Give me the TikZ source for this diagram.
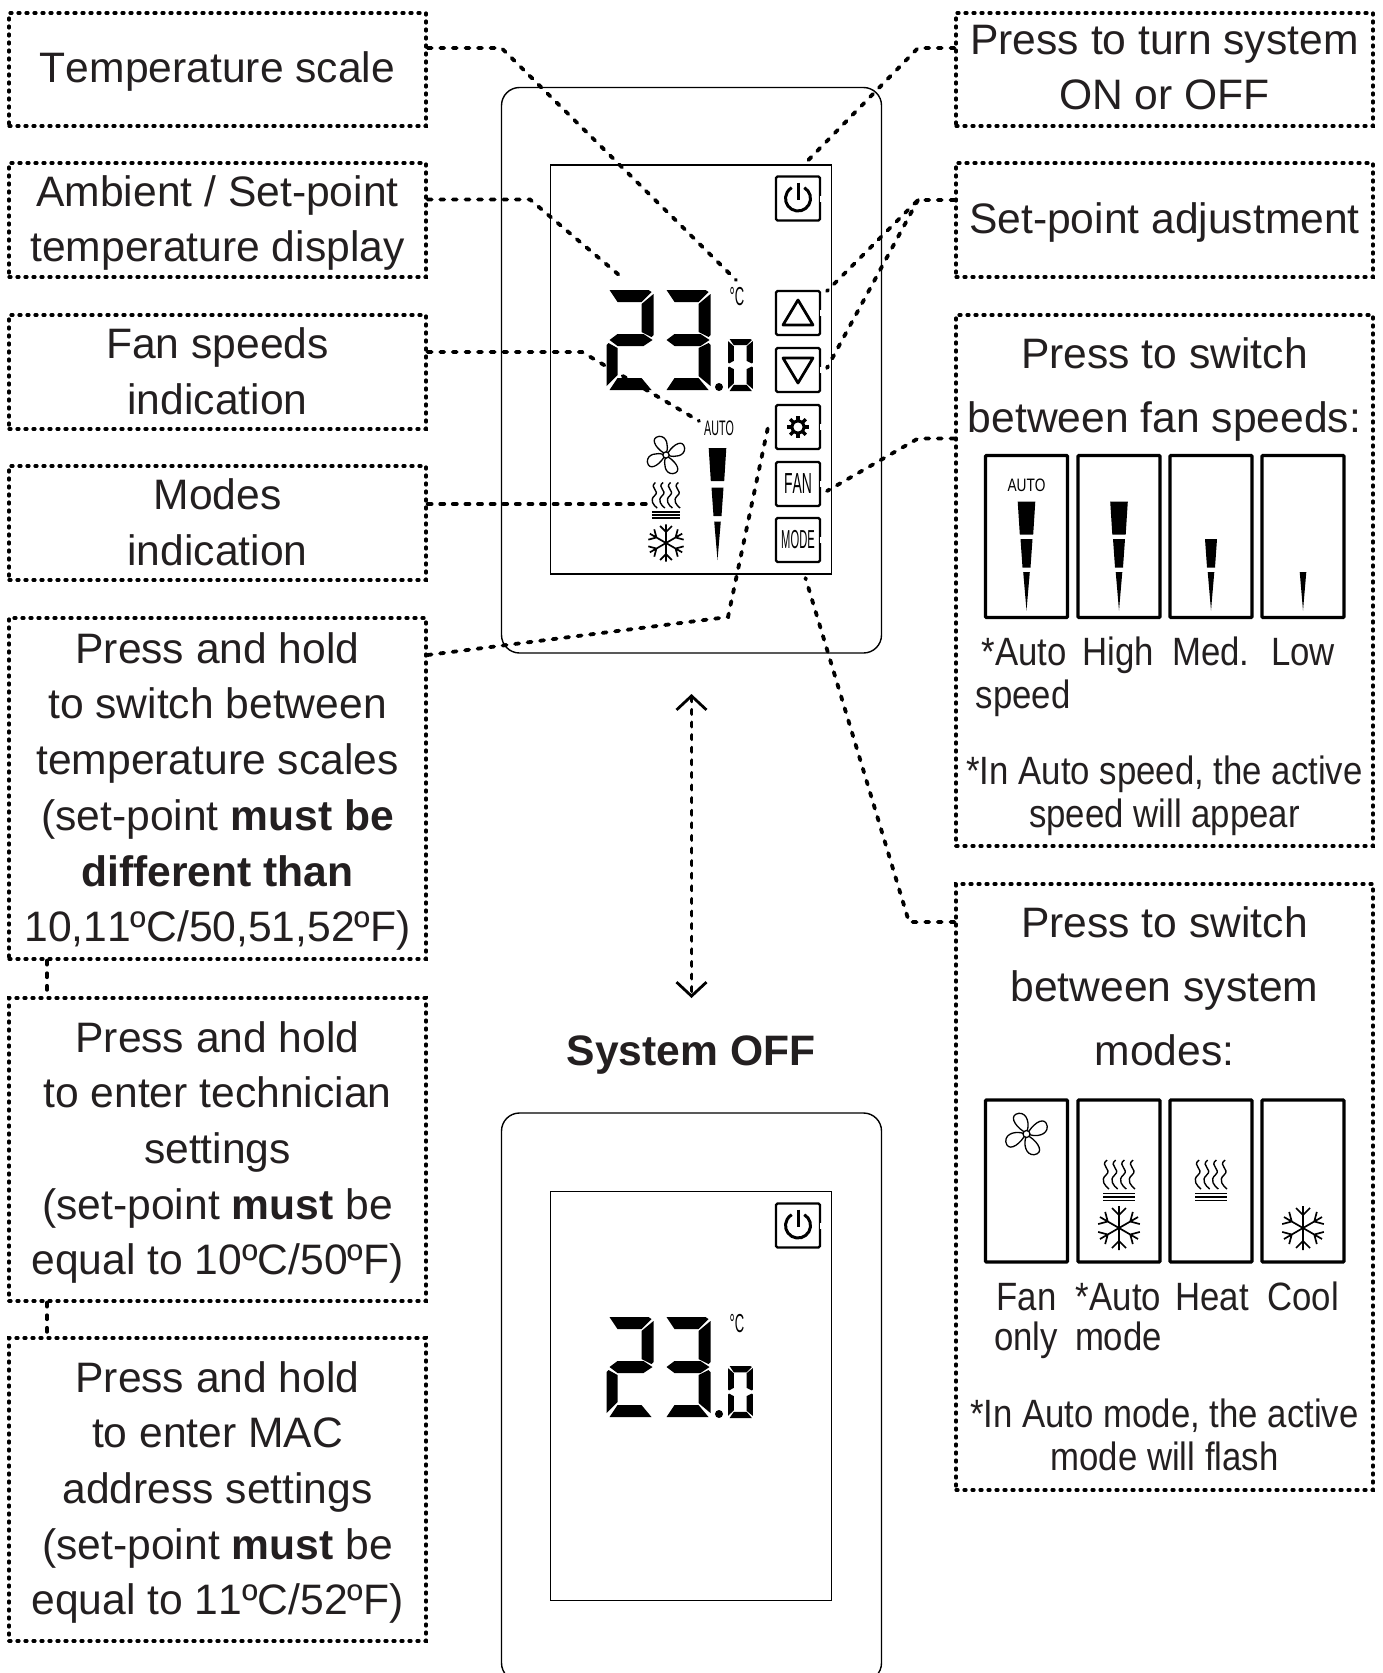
\documentclass[tikz,border=0pt]{standalone}
\usepackage{xcolor}
\usepackage{graphicx}
\usepackage{fontspec}
\usepackage{tikz}
\usetikzlibrary{arrows.meta,calc}
\setmainfont[Kerning=Off]{Liberation Sans}
\newfontfamily\narrowfont[FakeStretch=0.88]{Liberation Sans}
\definecolor{ink}{RGB}{35,31,32}

% one segment set of the display, drawn in a 47 x 100 cell
\newcommand{\sega}{(3,0) -- (42,0) -- (45,2) -- (35,12) -- (11,12) -- cycle}
\newcommand{\segb}{(47,4) -- (47,45) -- (45,47) -- (35,42) -- (35,14) -- cycle}
\newcommand{\segc}{(47,55) -- (47,96) -- (35,86) -- (35,58) -- (45,53) -- cycle}
\newcommand{\segd}{(45,100) -- (3,100) -- (11,88) -- (35,88) -- cycle}
\newcommand{\sege}{(0,55) -- (0,96) -- (11,85) -- (11,58) -- (2,53) -- cycle}
\newcommand{\segf}{(0,4) -- (0,45) -- (2,47) -- (11,42) -- (11,14) -- cycle}
\newcommand{\segg}{(3,50) -- (11,44) -- (37,44) -- (46,50) -- (37,56) -- (11,56) -- cycle}

\tikzset{
  callout/.style={draw=black, line width=3.2pt, dash pattern=on 2pt off 6pt, line cap=round,
    minimum width=417pt, inner sep=0pt},
  boxtext/.style={inner sep=0pt, align=center, text=ink, font=\fontsize{42.6}{55.7}\selectfont},
  lead/.style={draw=black, line width=3.8pt, dash pattern=on 4pt off 8.6pt, line cap=round},
  frame/.style={draw=black, line width=1.4pt},
  btn/.style={draw=black, line width=2.2pt, rounded corners=1.5pt, minimum size=44pt, inner sep=0pt},
  minipanel/.style={draw=black, line width=3.4pt, rounded corners=1pt, minimum width=82pt, minimum height=162pt, inner sep=0pt},
  plainlabel/.style={inner sep=0pt, text=ink, anchor=base, font=\fontsize{42.6}{55.7}\selectfont},
  narrowlabel/.style={inner sep=0pt, text=ink, anchor=base, font=\narrowfont\fontsize{39.5}{43}\selectfont},
  lcdlabel/.style={inner sep=0pt, text=black},
  pics/snowicon/.style={code={
    \foreach \ang in {0,60,...,300}{
      \draw[line width=1.7pt, rotate=\ang] (0,0) -- (0,-22) (-7,-20) -- (0,-13) -- (7,-20);
    }
  }},
  pics/fanicon/.style={code={
    \foreach \ang in {15,105,195,285}{
      \draw[line width=1.3pt, rotate=\ang] (1.5,-3) .. controls (5,-8) and (7,-20) .. (-2,-22)
        .. controls (-12,-23) and (-10,-12) .. (-2,-3);
    }
    \draw[line width=1.3pt, fill=white] (0,0) circle (3.5);
  }},
  pics/heaticon/.style={code={
    \foreach \off in {-13,-4.3,4.3,13}{
      \draw[line width=1.4pt, xshift=\off pt] (1,-21) .. controls (-7,-15) and (7,-12) .. (0,-6)
        .. controls (-6,-1) and (-1,5) .. (3,8);
    }
    \foreach \lev in {12.5,16,19.5}{
      \draw[line width=1.5pt] (-16,\lev) -- (16,\lev);
    }
  }},
  pics/speedtop/.style={code={
    \fill (-8.8,0) -- (8.8,0) -- (6.7,33) -- (-6.7,33) -- cycle;
  }},
  pics/speedmid/.style={code={
    \fill (-6,37.5) -- (6,37.5) -- (4,66) -- (-4,66) -- cycle;
  }},
  pics/speedlow/.style={code={
    \fill (-3.3,70.5) -- (3.3,70.5) -- (0,109) -- cycle;
  }},
  pics/lcdnumber/.style={code={
    \begin{scope}[shift={(0,0)}]
      \foreach \seg in {\sega,\segb,\segg,\sege,\segd}{ \fill \seg; }
    \end{scope}
    \begin{scope}[shift={(57,0)}]
      \foreach \seg in {\sega,\segb,\segg,\segc,\segd}{ \fill \seg; }
    \end{scope}
    \fill (112.5,97) circle (4);
    \begin{scope}[shift={(121.5,49)},xscale=0.53,yscale=0.52]
      \foreach \seg in {\sega,\segb,\segc,\segd,\sege,\segf}{ \fill \seg; }
    \end{scope}
  }},
  pics/powersign/.style={code={
    \draw[line width=3pt] (-60:12.5) arc[start angle=-60, end angle=240, radius=12.5];
    \draw[line width=3pt] (0,-16) -- (0,1);
  }},
}

\begin{document}
\begin{tikzpicture}[x=1pt,y=-1pt]
\useasboundingbox[fill=white] (0,0) rectangle (1383,1673);

% left column
\node[callout, minimum height=113pt] (scalebox) at (217.5,69.5) {};
\node[boxtext] (scaletxt) at ([yshift=-2pt]scalebox.center) {Temperature scale};
\node[callout, minimum height=114pt] (tempbox) at (217.5,220) {};
\node[boxtext] (temptxt) at ([yshift=-3pt]tempbox.center) {Ambient / Set-point\\temperature display};
\node[callout, minimum height=114pt] (fanbox) at (217.5,372) {};
\node[boxtext] (fanboxtxt) at ([yshift=1pt]fanbox.center) {Fan speeds\\indication};
\node[callout, minimum height=114pt] (modebox) at (217.5,523) {};
\node[boxtext] (modeboxtxt) at ([yshift=1pt]modebox.center) {Modes\\indication};
\node[callout, minimum height=341pt] (holdbox) at (217.5,788.5) {};
\node[boxtext] (holdtxt) at ([yshift=-3pt]holdbox.center) {Press and hold\\to switch between\\temperature scales\\(set-point \textbf{must be}\\\textbf{different than}\\10,11ºC/50,51,52ºF)};
\node[callout, minimum height=303pt] (techbox) at (217.5,1149.5) {};
\node[boxtext] (techtxt) at ([yshift=-3pt]techbox.center) {Press and hold\\to enter technician\\settings\\(set-point \textbf{must} be\\equal to 10ºC/50ºF)};
\node[callout, minimum height=303pt] (macbox) at (217.5,1489.5) {};
\node[boxtext] (mactxt) at ([yshift=-3pt]macbox.center) {Press and hold\\to enter MAC\\address settings\\(set-point \textbf{must} be\\equal to 11ºC/52ºF)};

% right column
\node[callout, minimum height=113pt] (powerbox) at (1164.5,69.5) {};
\node[boxtext] (powertxt) at ([yshift=2pt]powerbox.center) {Press to turn system\\ON or OFF};
\node[callout, minimum height=114pt] (setbox) at (1164.5,220) {};
\node[boxtext] (settxt) at ([yshift=-2pt]setbox.center) {Set-point adjustment};
\node[callout, minimum height=531pt] (speedbox) at (1164.5,580.5) {};
\node[callout, minimum height=606pt] (sysbox) at (1164.5,1187) {};

\node[plainlabel] (speedhead) at (1164.5,368.5) {Press to switch};
\node[plainlabel] (speedsub) at (1164.5,432.5) {between fan speeds:};
\node[plainlabel] (syshead) at (1164.5,937.5) {Press to switch};
\node[plainlabel] (syssub) at (1164.5,1001.5) {between system};
\node[plainlabel] (sysend) at (1164.5,1065.5) {modes:};

% speed panels
\node[minipanel] (speedauto) at (1026.5,536.5) {};
\node[minipanel] (speedhigh) at (1119,536.5) {};
\node[minipanel] (speedmed) at (1211,536.5) {};
\node[minipanel] (speedlow) at (1303,536.5) {};
\node[lcdlabel] (autotag) at (1026.5,485.5) {\fontsize{18}{18}\selectfont\scalebox{0.76}[1]{AUTO}};
\path (speedauto.center |- 0,501.5) pic {speedtop} pic {speedmid} pic {speedlow};
\path (speedhigh.center |- 0,501.5) pic {speedtop} pic {speedmid} pic {speedlow};
\path (speedmed.center |- 0,501.5) pic {speedmid} pic {speedlow};
\path (speedlow.center |- 0,501.5) pic {speedlow};

\node[narrowlabel] (autotxt) at (1024,665) {*Auto};
\node[narrowlabel] (hightxt) at (1118.5,665) {High};
\node[narrowlabel] (medtxt) at (1211,665) {Med.};
\node[narrowlabel] (lowtxt) at (1303,665) {Low};
\node[narrowlabel] (speedtxt) at (1023,708) {speed};
\node[narrowlabel] (speednote) at (1164.5,784) {*In Auto speed, the active};
\node[narrowlabel] (speedend) at (1164.5,827) {speed will appear};

% mode panels
\node[minipanel] (modefan) at (1026.5,1181) {};
\node[minipanel] (modeauto) at (1119,1181) {};
\node[minipanel] (modeheat) at (1211,1181) {};
\node[minipanel] (modecool) at (1303,1181) {};
\path (1026.5,1134) pic {fanicon};
\path (1119,1181) pic {heaticon};
\path (1119,1228) pic {snowicon};
\path (1211,1181) pic {heaticon};
\path (1303,1228) pic {snowicon};

\node[narrowlabel] (fantxt) at (1026.5,1310) {Fan};
\node[narrowlabel] (onlytxt) at (1026,1350) {only};
\node[narrowlabel] (mautotxt) at (1118.5,1310) {*Auto};
\node[narrowlabel] (mmodetxt) at (1118.5,1350) {mode};
\node[narrowlabel] (heattxt) at (1212,1310) {Heat};
\node[narrowlabel] (cooltxt) at (1303,1310) {Cool};
\node[narrowlabel] (modenote) at (1164.5,1427) {*In Auto mode, the active};
\node[narrowlabel] (modelast) at (1164.5,1470) {mode will flash};

% thermostat on
\draw[frame, rounded corners=18pt] (501.5,87.5) rectangle (881.5,653);
\node[frame, minimum width=281pt, minimum height=409pt, inner sep=0pt, line width=1.2pt] (screen) at (691,369.5) {};

\coordinate (scaleend) at (736,280);
\coordinate (tempend) at (619,275);
\coordinate (fanend) at (699,421);
\coordinate (modeend) at (650,504);
\coordinate (holdend) at (768,427);
\coordinate (powerend) at (803.5,165);
\coordinate (upend) at (827,291);
\coordinate (downend) at (827,368);
\coordinate (fanbtnend) at (827,491);
\coordinate (modebtnend) at (805.5,578);

\draw[lead] (scalebox.east |- 0,48) -- (501.5,48) -- (scaleend);
\draw[lead] (tempbox.east |- 0,199.5) -- (530,199.5) -- (tempend);
\draw[lead] (fanbox.east |- 0,352) -- (582,352) -- (fanend);
\draw[lead] (modebox.east |- 0,504) -- (modeend);
\draw[lead] (holdbox.east |- 0,655) -- (728,617) -- (holdend);
\draw[lead] (powerbox.west |- 0,48) -- (918,48) -- (powerend);
\draw[lead] (setbox.west |- 0,200) -- (918,200) -- (upend);
\draw[lead] (918,200) -- (downend);
\draw[lead] (speedbox.west |- 0,438.5) -- (918,438.5) -- (fanbtnend);
\draw[lead] (sysbox.west |- 0,922) -- (909,922) -- (modebtnend);
\draw[lead] (holdbox.south -| 47,0) -- (techbox.north -| 47,0);
\draw[lead] (techbox.south -| 47,0) -- (macbox.north -| 47,0);

% display of the on state
\path (606.5,290) pic {lcdnumber};
\node[lcdlabel] (unitone) at (737,297) {\fontsize{26}{26}\selectfont\scalebox{0.5}[1]{°C}};
\node[lcdlabel] (autolcd) at (719,428) {\fontsize{21}{21}\selectfont\scalebox{0.51}[1]{AUTO}};
\path (666,455) pic[scale=0.9] {fanicon};
\path (666,501) pic[scale=0.88] {heaticon};
\path (666,543) pic[scale=0.85] {snowicon};
\path (717.5,448) pic {speedtop} pic[yshift=-2pt] {speedmid} pic[yshift=-3pt] {speedlow};

% buttons
\foreach \name/\ypos/\tag in {onbtn/198.5/,upbtn/313/,downbtn/370/,gearbtn/427/,fanbtn/484/{\fontsize{29}{29}\selectfont\scalebox{0.48}[1]{FAN}},modebtn/540/{\fontsize{26}{26}\selectfont\scalebox{0.43}[1]{MODE}}}{
  \node[btn] (\name) at (798,\ypos) {\tag};
  \draw[white, line width=3pt] ([yshift=-3pt]\name.east) -- ([yshift=3pt]\name.east);
}
\path (onbtn.center) pic {powersign};
\draw[line width=2.8pt, line join=round] ($(upbtn.center)+(-15,12)$) -- ($(upbtn.center)+(15,12)$) -- ($(upbtn.center)+(0,-13)$) -- cycle;
\draw[line width=2.8pt, line join=round] ($(downbtn.center)+(-15,-12)$) -- ($(downbtn.center)+(15,-12)$) -- ($(downbtn.center)+(0,13)$) -- cycle;
\draw[line width=3pt] (gearbtn.center) circle (6);
\foreach \ang in {0,45,...,315}{
  \draw[line width=3.4pt] ($(gearbtn.center)+(\ang:6)$) -- ($(gearbtn.center)+(\ang:11)$);
}

% link between the two states
\draw[lead, {Straight Barb[length=14pt,width=30pt,line width=2.8pt]}-{Straight Barb[length=14pt,width=30pt,line width=2.8pt]}] (691.5,694) -- (691.5,998);
\node[boxtext] (offlabel) at (691,1055) {\textbf{System OFF}};

% thermostat off
\draw[frame, rounded corners=18pt] (501.5,1113) rectangle (881.5,1681);
\node[frame, minimum width=281pt, minimum height=409pt, inner sep=0pt, line width=1.2pt] (offscreen) at (691,1396) {};
\path (606.5,1317) pic {lcdnumber};
\node[lcdlabel] (unittwo) at (737,1324) {\fontsize{26}{26}\selectfont\scalebox{0.5}[1]{°C}};
\node[btn] (offbtn) at (798,1225.5) {};
\draw[white, line width=3pt] ([yshift=-3pt]offbtn.east) -- ([yshift=3pt]offbtn.east);
\path (offbtn.center) pic {powersign};
\end{tikzpicture}
\end{document}
